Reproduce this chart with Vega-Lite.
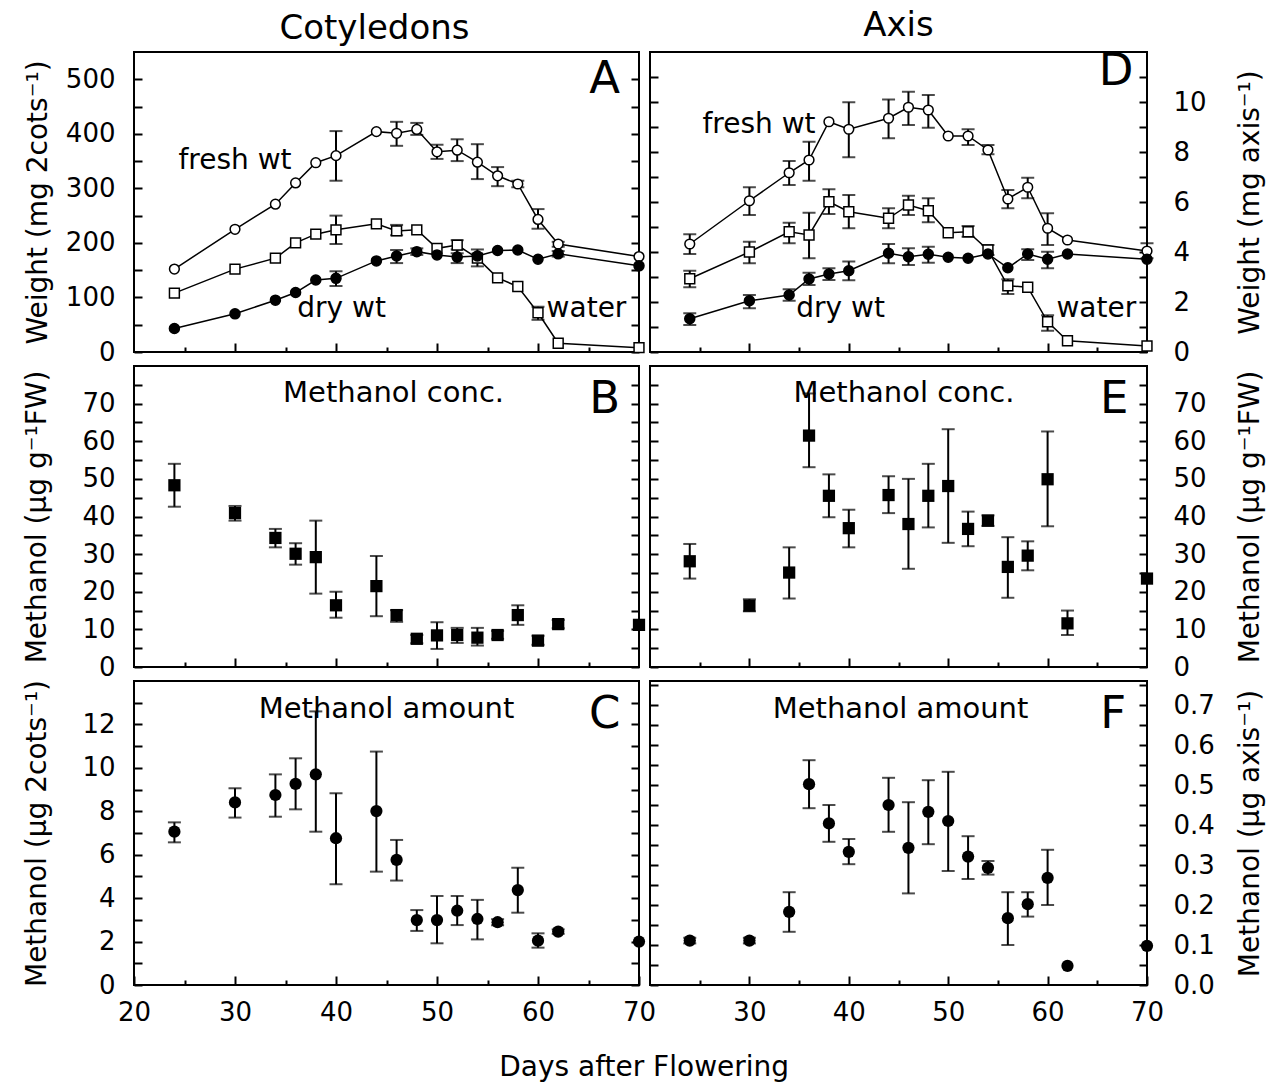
{
  "$schema": "https://vega.github.io/schema/vega-lite/v6.json",
  "padding": {"left": 22, "top": 7, "right": 5, "bottom": 5},
  "background": "white",
  "title": {"text": "Days after Flowering", "orient": "bottom", "anchor": "middle", "fontSize": 28, "fontWeight": "normal", "offset": 24, "color": "black"},
  "columns": 2,
  "spacing": {"row": 14, "column": 11},
  "bounds": "flush",
  "align": "each",
  "datasets": {
    "wA": [
      {"s": "fresh", "d": 24, "v": 152}, {"s": "fresh", "d": 30, "v": 225}, {"s": "fresh", "d": 34, "v": 271}, {"s": "fresh", "d": 36, "v": 310}, {"s": "fresh", "d": 38, "v": 347},
      {"s": "fresh", "d": 40, "v": 360, "lo": 314, "hi": 405}, {"s": "fresh", "d": 44, "v": 404}, {"s": "fresh", "d": 46, "v": 401, "lo": 378, "hi": 422}, {"s": "fresh", "d": 48, "v": 408, "lo": 398, "hi": 420},
      {"s": "fresh", "d": 50, "v": 367, "lo": 354, "hi": 380}, {"s": "fresh", "d": 52, "v": 370, "lo": 350, "hi": 390}, {"s": "fresh", "d": 54, "v": 348, "lo": 317, "hi": 381}, {"s": "fresh", "d": 56, "v": 323, "lo": 304, "hi": 339},
      {"s": "fresh", "d": 58, "v": 308, "lo": 302, "hi": 314}, {"s": "fresh", "d": 60, "v": 243, "lo": 226, "hi": 262}, {"s": "fresh", "d": 62, "v": 198, "lo": 193, "hi": 202}, {"s": "fresh", "d": 70, "v": 175},
      {"s": "water", "d": 24, "v": 108}, {"s": "water", "d": 30, "v": 152}, {"s": "water", "d": 34, "v": 172}, {"s": "water", "d": 36, "v": 200}, {"s": "water", "d": 38, "v": 216},
      {"s": "water", "d": 40, "v": 224, "lo": 198, "hi": 250}, {"s": "water", "d": 44, "v": 235}, {"s": "water", "d": 46, "v": 222, "lo": 214, "hi": 233}, {"s": "water", "d": 48, "v": 224},
      {"s": "water", "d": 50, "v": 190}, {"s": "water", "d": 52, "v": 196, "lo": 181, "hi": 205}, {"s": "water", "d": 54, "v": 172}, {"s": "water", "d": 56, "v": 136},
      {"s": "water", "d": 58, "v": 120}, {"s": "water", "d": 60, "v": 72, "lo": 59, "hi": 83}, {"s": "water", "d": 62, "v": 16}, {"s": "water", "d": 70, "v": 8},
      {"s": "dry", "d": 24, "v": 43}, {"s": "dry", "d": 30, "v": 70}, {"s": "dry", "d": 34, "v": 95}, {"s": "dry", "d": 36, "v": 109}, {"s": "dry", "d": 38, "v": 132},
      {"s": "dry", "d": 40, "v": 135, "lo": 121, "hi": 148}, {"s": "dry", "d": 44, "v": 167}, {"s": "dry", "d": 46, "v": 176, "lo": 163, "hi": 187}, {"s": "dry", "d": 48, "v": 184, "lo": 178, "hi": 190},
      {"s": "dry", "d": 50, "v": 178}, {"s": "dry", "d": 52, "v": 174, "lo": 163, "hi": 188}, {"s": "dry", "d": 54, "v": 176, "lo": 157, "hi": 188}, {"s": "dry", "d": 56, "v": 186},
      {"s": "dry", "d": 58, "v": 187}, {"s": "dry", "d": 60, "v": 170}, {"s": "dry", "d": 62, "v": 180, "lo": 175, "hi": 185}, {"s": "dry", "d": 70, "v": 158}
    ],
    "wD": [
      {"s": "fresh", "d": 24, "v": 4.32, "lo": 3.92, "hi": 4.71}, {"s": "fresh", "d": 30, "v": 6.05, "lo": 5.48, "hi": 6.59}, {"s": "fresh", "d": 34, "v": 7.17, "lo": 6.68, "hi": 7.64},
      {"s": "fresh", "d": 36, "v": 7.68, "lo": 6.85, "hi": 8.41}, {"s": "fresh", "d": 38, "v": 9.21}, {"s": "fresh", "d": 40, "v": 8.91, "lo": 7.79, "hi": 9.99},
      {"s": "fresh", "d": 44, "v": 9.35, "lo": 8.55, "hi": 10.1}, {"s": "fresh", "d": 46, "v": 9.79, "lo": 9.08, "hi": 10.41}, {"s": "fresh", "d": 48, "v": 9.68, "lo": 8.97, "hi": 10.28},
      {"s": "fresh", "d": 50, "v": 8.64}, {"s": "fresh", "d": 52, "v": 8.64, "lo": 8.28, "hi": 8.91}, {"s": "fresh", "d": 54, "v": 8.08, "lo": 7.91, "hi": 8.28},
      {"s": "fresh", "d": 56, "v": 6.12, "lo": 5.75, "hi": 6.48}, {"s": "fresh", "d": 58, "v": 6.59, "lo": 6.15, "hi": 6.97}, {"s": "fresh", "d": 60, "v": 4.95, "lo": 4.28, "hi": 5.55},
      {"s": "fresh", "d": 62, "v": 4.48}, {"s": "fresh", "d": 70, "v": 4.04, "lo": 3.75, "hi": 4.35},
      {"s": "water", "d": 24, "v": 2.93, "lo": 2.59, "hi": 3.25}, {"s": "water", "d": 30, "v": 4.0, "lo": 3.55, "hi": 4.41}, {"s": "water", "d": 34, "v": 4.81, "lo": 4.35, "hi": 5.17},
      {"s": "water", "d": 36, "v": 4.68, "lo": 3.75, "hi": 5.57}, {"s": "water", "d": 38, "v": 6.01, "lo": 5.52, "hi": 6.51}, {"s": "water", "d": 40, "v": 5.61, "lo": 4.95, "hi": 6.28},
      {"s": "water", "d": 44, "v": 5.35, "lo": 4.95, "hi": 5.75}, {"s": "water", "d": 46, "v": 5.88, "lo": 5.48, "hi": 6.25}, {"s": "water", "d": 48, "v": 5.65, "lo": 5.19, "hi": 6.15},
      {"s": "water", "d": 50, "v": 4.77}, {"s": "water", "d": 52, "v": 4.81, "lo": 4.61, "hi": 5.04}, {"s": "water", "d": 54, "v": 4.08, "lo": 3.88, "hi": 4.28},
      {"s": "water", "d": 56, "v": 2.65, "lo": 2.32, "hi": 2.91}, {"s": "water", "d": 58, "v": 2.59}, {"s": "water", "d": 60, "v": 1.21, "lo": 0.85, "hi": 1.47},
      {"s": "water", "d": 62, "v": 0.45}, {"s": "water", "d": 70, "v": 0.24},
      {"s": "dry", "d": 24, "v": 1.33, "lo": 1.08, "hi": 1.55}, {"s": "dry", "d": 30, "v": 2.05, "lo": 1.75, "hi": 2.28}, {"s": "dry", "d": 34, "v": 2.28, "lo": 2.05, "hi": 2.51},
      {"s": "dry", "d": 36, "v": 2.92, "lo": 2.68, "hi": 3.17}, {"s": "dry", "d": 38, "v": 3.12, "lo": 2.88, "hi": 3.35}, {"s": "dry", "d": 40, "v": 3.25, "lo": 2.87, "hi": 3.62},
      {"s": "dry", "d": 44, "v": 3.95, "lo": 3.55, "hi": 4.32}, {"s": "dry", "d": 46, "v": 3.81, "lo": 3.48, "hi": 4.15}, {"s": "dry", "d": 48, "v": 3.91, "lo": 3.57, "hi": 4.21},
      {"s": "dry", "d": 50, "v": 3.79}, {"s": "dry", "d": 52, "v": 3.75}, {"s": "dry", "d": 54, "v": 3.92}, {"s": "dry", "d": 56, "v": 3.37},
      {"s": "dry", "d": 58, "v": 3.92, "lo": 3.68, "hi": 4.11}, {"s": "dry", "d": 60, "v": 3.71, "lo": 3.35, "hi": 4.01}, {"s": "dry", "d": 62, "v": 3.92}, {"s": "dry", "d": 70, "v": 3.71}
    ],
    "cB": [
      {"d": 24, "v": 48.3, "lo": 42.6, "hi": 54.0}, {"d": 30, "v": 40.9, "lo": 38.9, "hi": 42.8}, {"d": 34, "v": 34.3, "lo": 31.8, "hi": 36.7}, {"d": 36, "v": 30.1, "lo": 27.2, "hi": 32.9},
      {"d": 38, "v": 29.2, "lo": 19.5, "hi": 38.9}, {"d": 40, "v": 16.4, "lo": 13.1, "hi": 20.0}, {"d": 44, "v": 21.5, "lo": 13.5, "hi": 29.5}, {"d": 46, "v": 13.8, "lo": 12.0, "hi": 15.1},
      {"d": 48, "v": 7.5, "lo": 6.3, "hi": 8.5}, {"d": 50, "v": 8.4, "lo": 4.8, "hi": 11.9}, {"d": 52, "v": 8.5, "lo": 6.4, "hi": 10.4}, {"d": 54, "v": 7.8, "lo": 5.7, "hi": 10.4},
      {"d": 56, "v": 8.5, "lo": 7.5, "hi": 9.6}, {"d": 58, "v": 13.8, "lo": 11.2, "hi": 16.4}, {"d": 60, "v": 7.0, "lo": 5.9, "hi": 8.3}, {"d": 62, "v": 11.4, "lo": 10.3, "hi": 12.5},
      {"d": 70, "v": 11.2}
    ],
    "cE": [
      {"d": 24, "v": 28.1, "lo": 23.5, "hi": 32.7}, {"d": 30, "v": 16.3, "lo": 14.8, "hi": 18.0}, {"d": 34, "v": 25.1, "lo": 18.2, "hi": 31.8}, {"d": 36, "v": 61.5, "lo": 53.1, "hi": 72.7},
      {"d": 38, "v": 45.5, "lo": 39.8, "hi": 51.2}, {"d": 40, "v": 36.9, "lo": 31.8, "hi": 41.8}, {"d": 44, "v": 45.7, "lo": 40.9, "hi": 50.7}, {"d": 46, "v": 38.0, "lo": 26.1, "hi": 50.0},
      {"d": 48, "v": 45.5, "lo": 37.1, "hi": 54.0}, {"d": 50, "v": 48.1, "lo": 33.0, "hi": 63.2}, {"d": 52, "v": 36.7, "lo": 32.1, "hi": 41.3}, {"d": 54, "v": 38.9, "lo": 37.5, "hi": 40.3},
      {"d": 56, "v": 26.6, "lo": 18.4, "hi": 34.5}, {"d": 58, "v": 29.6, "lo": 25.7, "hi": 33.4}, {"d": 60, "v": 49.9, "lo": 37.4, "hi": 62.6}, {"d": 62, "v": 11.6, "lo": 8.5, "hi": 15.0},
      {"d": 70, "v": 23.5}
    ],
    "aC": [
      {"d": 24, "v": 7.06, "lo": 6.57, "hi": 7.49}, {"d": 30, "v": 8.41, "lo": 7.71, "hi": 9.06}, {"d": 34, "v": 8.75, "lo": 7.75, "hi": 9.7}, {"d": 36, "v": 9.26, "lo": 8.09, "hi": 10.44},
      {"d": 38, "v": 9.7, "lo": 7.06, "hi": 12.6}, {"d": 40, "v": 6.76, "lo": 4.64, "hi": 8.83}, {"d": 44, "v": 8.01, "lo": 5.22, "hi": 10.75}, {"d": 46, "v": 5.76, "lo": 4.81, "hi": 6.68},
      {"d": 48, "v": 2.99, "lo": 2.49, "hi": 3.45}, {"d": 50, "v": 2.99, "lo": 1.92, "hi": 4.1}, {"d": 52, "v": 3.42, "lo": 2.76, "hi": 4.1}, {"d": 54, "v": 3.04, "lo": 2.1, "hi": 3.92},
      {"d": 56, "v": 2.89, "lo": 2.75, "hi": 3.03}, {"d": 58, "v": 4.37, "lo": 3.33, "hi": 5.4}, {"d": 60, "v": 2.04, "lo": 1.72, "hi": 2.38}, {"d": 62, "v": 2.46, "lo": 2.36, "hi": 2.56},
      {"d": 70, "v": 2.0}
    ],
    "aF": [
      {"d": 24, "v": 0.111, "lo": 0.104, "hi": 0.118}, {"d": 30, "v": 0.111, "lo": 0.104, "hi": 0.118}, {"d": 34, "v": 0.183, "lo": 0.133, "hi": 0.232}, {"d": 36, "v": 0.502, "lo": 0.442, "hi": 0.562},
      {"d": 38, "v": 0.404, "lo": 0.358, "hi": 0.45}, {"d": 40, "v": 0.333, "lo": 0.302, "hi": 0.365}, {"d": 44, "v": 0.45, "lo": 0.383, "hi": 0.518}, {"d": 46, "v": 0.343, "lo": 0.229, "hi": 0.457},
      {"d": 48, "v": 0.433, "lo": 0.352, "hi": 0.512}, {"d": 50, "v": 0.41, "lo": 0.285, "hi": 0.533}, {"d": 52, "v": 0.321, "lo": 0.265, "hi": 0.372}, {"d": 54, "v": 0.293, "lo": 0.276, "hi": 0.31},
      {"d": 56, "v": 0.167, "lo": 0.1, "hi": 0.232}, {"d": 58, "v": 0.202, "lo": 0.171, "hi": 0.232}, {"d": 60, "v": 0.268, "lo": 0.2, "hi": 0.338}, {"d": 62, "v": 0.048},
      {"d": 70, "v": 0.098}
    ]
  },
  "concat": [
    {
      "width": 505, "height": 300,
      "title": {"text": "Cotyledons", "fontSize": 34, "fontWeight": "normal", "offset": 6, "anchor": "middle", "dx": -12, "color": "black"},
      "data": {"name": "wA"},
      "encoding": {"x": {"field": "d", "type": "quantitative", "scale": {"domain": [20, 70], "nice": false},
        "axis": {"values": [25, 30, 35, 40, 45, 50, 55, 60, 65], "labels": false, "title": null, "tickSize": {"condition": {"test": "datum.value % 10 === 0", "value": -9}, "value": -5}}}},
      "resolve": {"axis": {"y": "independent"}},
      "layer": [
        {"mark": {"type": "line", "color": "black", "strokeWidth": 1.5},
          "encoding": {"y": {"field": "v", "type": "quantitative", "scale": {"domain": [0, 550], "nice": false},
            "axis": {"orient": "left", "title": "Weight (mg 2cots⁻¹)", "titlePadding": 13, "values": [0, 50, 100, 150, 200, 250, 300, 350, 400, 450, 500], "labelExpr": "datum.value % 100 === 0 ? datum.label : ''"}},
            "detail": {"field": "s"}}},
        {"transform": [{"filter": "isValid(datum.lo)"}],
          "mark": {"type": "errorbar", "ticks": true, "size": 13, "thickness": 2, "color": "black"},
          "encoding": {"y": {"field": "lo", "type": "quantitative", "scale": {"domain": [0, 550], "nice": false}, "axis": null}, "y2": {"field": "hi"}}},
        {"mark": {"type": "point", "filled": true, "stroke": "black", "strokeWidth": 1.5, "opacity": 1},
          "encoding": {"y": {"field": "v", "type": "quantitative", "scale": {"domain": [0, 550], "nice": false},
            "axis": {"orient": "right", "labels": false, "title": null, "values": [0, 50, 100, 150, 200, 250, 300, 350, 400, 450, 500]}},
            "shape": {"field": "s", "type": "nominal", "scale": {"domain": ["fresh", "water", "dry"], "range": ["circle", "square", "circle"]}, "legend": null},
            "fill": {"field": "s", "type": "nominal", "scale": {"domain": ["fresh", "water", "dry"], "range": ["white", "white", "black"]}, "legend": null},
            "size": {"field": "s", "type": "nominal", "scale": {"domain": ["fresh", "water", "dry"], "range": [95, 100, 120]}, "legend": null}}},
        {"transform": [{"filter": "datum.s === 'fresh' && datum.d === 24"}], "mark": {"type": "text", "text": "fresh wt", "fontSize": 28, "align": "center", "baseline": "alphabetic"},
          "encoding": {"x": {"datum": 30.0, "type": "quantitative"}, "y": {"datum": 335, "type": "quantitative", "axis": null}}},
        {"transform": [{"filter": "datum.s === 'fresh' && datum.d === 24"}], "mark": {"type": "text", "text": "dry wt", "fontSize": 28, "align": "center", "baseline": "alphabetic"},
          "encoding": {"x": {"datum": 40.55, "type": "quantitative"}, "y": {"datum": 65, "type": "quantitative", "axis": null}}},
        {"transform": [{"filter": "datum.s === 'fresh' && datum.d === 24"}], "mark": {"type": "text", "text": "water", "fontSize": 28, "align": "center", "baseline": "alphabetic"},
          "encoding": {"x": {"datum": 64.8, "type": "quantitative"}, "y": {"datum": 65, "type": "quantitative", "axis": null}}},
        {"transform": [{"filter": "datum.s === 'fresh' && datum.d === 24"}], "mark": {"type": "text", "text": "A", "fontSize": 45, "align": "center", "baseline": "alphabetic"},
          "encoding": {"x": {"datum": 66.6, "type": "quantitative"}, "y": {"datum": 475, "type": "quantitative", "axis": null}}}
      ]
    },
    {
      "width": 497, "height": 300,
      "title": {"text": "Axis", "fontSize": 34, "fontWeight": "normal", "offset": 6, "anchor": "middle", "color": "black"},
      "data": {"name": "wD"},
      "encoding": {"x": {"field": "d", "type": "quantitative", "scale": {"domain": [20, 70], "nice": false},
        "axis": {"values": [25, 30, 35, 40, 45, 50, 55, 60, 65], "labels": false, "title": null, "tickSize": {"condition": {"test": "datum.value % 10 === 0", "value": -9}, "value": -5}}}},
      "resolve": {"axis": {"y": "independent"}},
      "layer": [
        {"mark": {"type": "line", "color": "black", "strokeWidth": 1.5},
          "encoding": {"y": {"field": "v", "type": "quantitative", "scale": {"domain": [0, 12], "nice": false},
            "axis": {"orient": "left", "labels": false, "title": null, "values": [0, 1, 2, 3, 4, 5, 6, 7, 8, 9, 10, 11]}},
            "detail": {"field": "s"}}},
        {"transform": [{"filter": "isValid(datum.lo)"}],
          "mark": {"type": "errorbar", "ticks": true, "size": 13, "thickness": 2, "color": "black"},
          "encoding": {"y": {"field": "lo", "type": "quantitative", "scale": {"domain": [0, 12], "nice": false}, "axis": null}, "y2": {"field": "hi"}}},
        {"mark": {"type": "point", "filled": true, "stroke": "black", "strokeWidth": 1.5, "opacity": 1},
          "encoding": {"y": {"field": "v", "type": "quantitative", "scale": {"domain": [0, 12], "nice": false},
            "axis": {"orient": "right", "title": "Weight (mg axis⁻¹)", "titlePadding": 30, "values": [0, 1, 2, 3, 4, 5, 6, 7, 8, 9, 10, 11], "labelExpr": "datum.value % 2 === 0 ? datum.label : ''"}},
            "shape": {"field": "s", "type": "nominal", "scale": {"domain": ["fresh", "water", "dry"], "range": ["circle", "square", "circle"]}, "legend": null},
            "fill": {"field": "s", "type": "nominal", "scale": {"domain": ["fresh", "water", "dry"], "range": ["white", "white", "black"]}, "legend": null},
            "size": {"field": "s", "type": "nominal", "scale": {"domain": ["fresh", "water", "dry"], "range": [95, 100, 120]}, "legend": null}}},
        {"transform": [{"filter": "datum.s === 'fresh' && datum.d === 24"}], "mark": {"type": "text", "text": "fresh wt", "fontSize": 28, "align": "center", "baseline": "alphabetic"},
          "encoding": {"x": {"datum": 30.97, "type": "quantitative"}, "y": {"datum": 8.75, "type": "quantitative", "axis": null}}},
        {"transform": [{"filter": "datum.s === 'fresh' && datum.d === 24"}], "mark": {"type": "text", "text": "dry wt", "fontSize": 28, "align": "center", "baseline": "alphabetic"},
          "encoding": {"x": {"datum": 39.17, "type": "quantitative"}, "y": {"datum": 1.41, "type": "quantitative", "axis": null}}},
        {"transform": [{"filter": "datum.s === 'fresh' && datum.d === 24"}], "mark": {"type": "text", "text": "water", "fontSize": 28, "align": "center", "baseline": "alphabetic"},
          "encoding": {"x": {"datum": 64.9, "type": "quantitative"}, "y": {"datum": 1.41, "type": "quantitative", "axis": null}}},
        {"transform": [{"filter": "datum.s === 'fresh' && datum.d === 24"}], "mark": {"type": "text", "text": "D", "fontSize": 45, "align": "center", "baseline": "alphabetic"},
          "encoding": {"x": {"datum": 66.9, "type": "quantitative"}, "y": {"datum": 10.68, "type": "quantitative", "axis": null}}}
      ]
    },
    {
      "width": 505, "height": 301,
      "data": {"name": "cB"},
      "encoding": {"x": {"field": "d", "type": "quantitative", "scale": {"domain": [20, 70], "nice": false},
        "axis": {"values": [25, 30, 35, 40, 45, 50, 55, 60, 65], "labels": false, "title": null, "tickSize": {"condition": {"test": "datum.value % 10 === 0", "value": -9}, "value": -5}}}},
      "resolve": {"axis": {"y": "independent"}},
      "layer": [
        {"transform": [{"filter": "isValid(datum.lo)"}],
          "mark": {"type": "errorbar", "ticks": true, "size": 13, "thickness": 2, "color": "black"},
          "encoding": {"y": {"field": "lo", "type": "quantitative", "scale": {"domain": [0, 80], "nice": false},
            "axis": {"orient": "left", "title": "Methanol (µg g⁻¹FW)", "titlePadding": 30, "values": [0, 5, 10, 15, 20, 25, 30, 35, 40, 45, 50, 55, 60, 65, 70, 75], "labelExpr": "datum.value % 10 === 0 ? datum.label : ''"}},
            "y2": {"field": "hi"}}},
        {"mark": {"type": "square", "filled": true, "color": "black", "size": 150, "opacity": 1},
          "encoding": {"y": {"field": "v", "type": "quantitative", "scale": {"domain": [0, 80], "nice": false},
            "axis": {"orient": "right", "labels": false, "title": null, "values": [0, 5, 10, 15, 20, 25, 30, 35, 40, 45, 50, 55, 60, 65, 70, 75]}}}},
        {"transform": [{"filter": "datum.d === 24"}], "mark": {"type": "text", "text": "Methanol conc.", "fontSize": 29, "align": "center", "baseline": "alphabetic"},
          "encoding": {"x": {"datum": 45.7, "type": "quantitative"}, "y": {"datum": 70.3, "type": "quantitative", "axis": null}}},
        {"transform": [{"filter": "datum.d === 24"}], "mark": {"type": "text", "text": "B", "fontSize": 45, "align": "center", "baseline": "alphabetic"},
          "encoding": {"x": {"datum": 66.6, "type": "quantitative"}, "y": {"datum": 67.5, "type": "quantitative", "axis": null}}}
      ]
    },
    {
      "width": 497, "height": 301,
      "data": {"name": "cE"},
      "encoding": {"x": {"field": "d", "type": "quantitative", "scale": {"domain": [20, 70], "nice": false},
        "axis": {"values": [25, 30, 35, 40, 45, 50, 55, 60, 65], "labels": false, "title": null, "tickSize": {"condition": {"test": "datum.value % 10 === 0", "value": -9}, "value": -5}}}},
      "resolve": {"axis": {"y": "independent"}},
      "layer": [
        {"transform": [{"filter": "isValid(datum.lo)"}],
          "mark": {"type": "errorbar", "ticks": true, "size": 13, "thickness": 2, "color": "black"},
          "encoding": {"y": {"field": "lo", "type": "quantitative", "scale": {"domain": [0, 80], "nice": false},
            "axis": {"orient": "left", "labels": false, "title": null, "values": [0, 5, 10, 15, 20, 25, 30, 35, 40, 45, 50, 55, 60, 65, 70, 75]}},
            "y2": {"field": "hi"}}},
        {"mark": {"type": "square", "filled": true, "color": "black", "size": 150, "opacity": 1},
          "encoding": {"y": {"field": "v", "type": "quantitative", "scale": {"domain": [0, 80], "nice": false},
            "axis": {"orient": "right", "title": "Methanol (µg g⁻¹FW)", "titlePadding": 30, "values": [0, 5, 10, 15, 20, 25, 30, 35, 40, 45, 50, 55, 60, 65, 70, 75], "labelExpr": "datum.value % 10 === 0 ? datum.label : ''"}}}},
        {"transform": [{"filter": "datum.d === 24"}], "mark": {"type": "text", "text": "Methanol conc.", "fontSize": 29, "align": "center", "baseline": "alphabetic"},
          "encoding": {"x": {"datum": 45.55, "type": "quantitative"}, "y": {"datum": 70.3, "type": "quantitative", "axis": null}}},
        {"transform": [{"filter": "datum.d === 24"}], "mark": {"type": "text", "text": "E", "fontSize": 45, "align": "center", "baseline": "alphabetic"},
          "encoding": {"x": {"datum": 66.7, "type": "quantitative"}, "y": {"datum": 67.5, "type": "quantitative", "axis": null}}}
      ]
    },
    {
      "width": 505, "height": 304,
      "data": {"name": "aC"},
      "encoding": {"x": {"field": "d", "type": "quantitative", "scale": {"domain": [20, 70], "nice": false},
        "axis": {"values": [20, 25, 30, 35, 40, 45, 50, 55, 60, 65, 70], "title": null, "labelPadding": 23, "labelExpr": "datum.value % 10 === 0 ? datum.label : ''", "tickSize": {"condition": {"test": "datum.value % 10 === 0", "value": -9}, "value": -5}}}},
      "resolve": {"axis": {"y": "independent"}},
      "layer": [
        {"transform": [{"filter": "isValid(datum.lo)"}],
          "mark": {"type": "errorbar", "ticks": true, "size": 13, "thickness": 2, "color": "black"},
          "encoding": {"y": {"field": "lo", "type": "quantitative", "scale": {"domain": [0, 14], "nice": false},
            "axis": {"orient": "left", "title": "Methanol (µg 2cots⁻¹)", "titlePadding": 30, "values": [0, 1, 2, 3, 4, 5, 6, 7, 8, 9, 10, 11, 12, 13], "labelExpr": "datum.value % 2 === 0 ? datum.label : ''"}},
            "y2": {"field": "hi"}}},
        {"mark": {"type": "circle", "color": "black", "size": 150, "opacity": 1},
          "encoding": {"y": {"field": "v", "type": "quantitative", "scale": {"domain": [0, 14], "nice": false},
            "axis": {"orient": "right", "labels": false, "title": null, "values": [0, 1, 2, 3, 4, 5, 6, 7, 8, 9, 10, 11, 12, 13]}}}},
        {"transform": [{"filter": "datum.d === 24"}], "mark": {"type": "text", "text": "Methanol amount", "fontSize": 29, "align": "center", "baseline": "alphabetic"},
          "encoding": {"x": {"datum": 45.0, "type": "quantitative"}, "y": {"datum": 12.28, "type": "quantitative", "axis": null}}},
        {"transform": [{"filter": "datum.d === 24"}], "mark": {"type": "text", "text": "C", "fontSize": 45, "align": "center", "baseline": "alphabetic"},
          "encoding": {"x": {"datum": 66.6, "type": "quantitative"}, "y": {"datum": 11.82, "type": "quantitative", "axis": null}}}
      ]
    },
    {
      "width": 497, "height": 304,
      "data": {"name": "aF"},
      "encoding": {"x": {"field": "d", "type": "quantitative", "scale": {"domain": [20, 70], "nice": false},
        "axis": {"values": [25, 30, 35, 40, 45, 50, 55, 60, 65, 70], "title": null, "labelPadding": 23, "labelExpr": "datum.value % 10 === 0 ? datum.label : ''", "tickSize": {"condition": {"test": "datum.value % 10 === 0", "value": -9}, "value": -5}}}},
      "resolve": {"axis": {"y": "independent"}},
      "layer": [
        {"transform": [{"filter": "isValid(datum.lo)"}],
          "mark": {"type": "errorbar", "ticks": true, "size": 13, "thickness": 2, "color": "black"},
          "encoding": {"y": {"field": "lo", "type": "quantitative", "scale": {"domain": [0, 0.76], "nice": false},
            "axis": {"orient": "left", "labels": false, "title": null, "values": [0, 0.05, 0.1, 0.15, 0.2, 0.25, 0.3, 0.35, 0.4, 0.45, 0.5, 0.55, 0.6, 0.65, 0.7, 0.75]}},
            "y2": {"field": "hi"}}},
        {"mark": {"type": "circle", "color": "black", "size": 150, "opacity": 1},
          "encoding": {"y": {"field": "v", "type": "quantitative", "scale": {"domain": [0, 0.76], "nice": false},
            "axis": {"orient": "right", "title": "Methanol (µg axis⁻¹)", "titlePadding": 22, "values": [0, 0.05, 0.1, 0.15, 0.2, 0.25, 0.3, 0.35, 0.4, 0.45, 0.5, 0.55, 0.6, 0.65, 0.7, 0.75],
              "labelExpr": "abs(datum.value * 10 - round(datum.value * 10)) < 0.001 ? format(datum.value, '.1f') : ''"}}}},
        {"transform": [{"filter": "datum.d === 24"}], "mark": {"type": "text", "text": "Methanol amount", "fontSize": 29, "align": "center", "baseline": "alphabetic"},
          "encoding": {"x": {"datum": 45.2, "type": "quantitative"}, "y": {"datum": 0.667, "type": "quantitative", "axis": null}}},
        {"transform": [{"filter": "datum.d === 24"}], "mark": {"type": "text", "text": "F", "fontSize": 45, "align": "center", "baseline": "alphabetic"},
          "encoding": {"x": {"datum": 66.6, "type": "quantitative"}, "y": {"datum": 0.642, "type": "quantitative", "axis": null}}}
      ]
    }
  ],
  "config": {
    "font": "DejaVu Sans",
    "view": {"stroke": "black", "strokeWidth": 2},
    "axis": {"domain": false, "grid": false, "tickSize": -8, "tickWidth": 2, "tickColor": "black", "labelFontSize": 26, "labelColor": "black", "labelPadding": 27,
      "titleFontSize": 28, "titleFontWeight": "normal", "titleColor": "black", "labelOverlap": false, "labelFlush": false},
    "axisX": {"labelPadding": 23},
    "axisRight": {"labelPadding": 34, "titleAngle": 270, "titleBaseline": "top"},
    "text": {"color": "black", "font": "DejaVu Sans"}
  }
}
